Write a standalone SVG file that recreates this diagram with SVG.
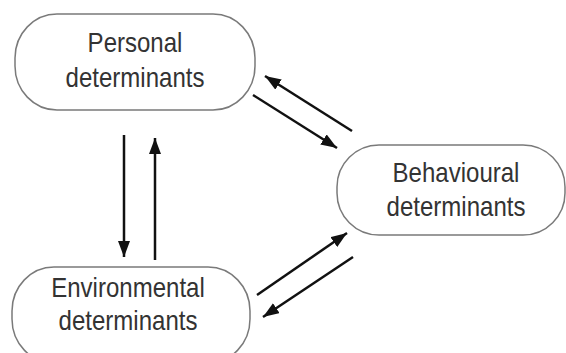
<svg xmlns="http://www.w3.org/2000/svg" width="566" height="353" viewBox="0 0 566 353">
<style>
.box{fill:#fff;stroke:#7a7a7a;stroke-width:1.5}
.lbl{font-family:"Liberation Sans",Arial,sans-serif;font-size:27px;fill:#333;text-anchor:middle}
.arr{stroke:#111;stroke-width:2.5;fill:none;marker-end:url(#ah)}
</style>
<defs>
<marker id="ah" markerUnits="userSpaceOnUse" markerWidth="18" markerHeight="12" refX="16" refY="6" orient="auto">
<path d="M0,0 L16,6 L0,12 Z" fill="#111"/>
</marker>
</defs>
<rect width="566" height="353" fill="#fff"/>
<g id="personal">
<rect class="box" x="15" y="14" width="240" height="96" rx="42" ry="44"/>
<text class="lbl" transform="translate(135,52) scale(0.89,1)">Personal</text>
<text class="lbl" transform="translate(135,87) scale(0.89,1)">determinants</text>
</g>
<g id="behavioural">
<rect class="box" x="337" y="145" width="228" height="90" rx="42" ry="42"/>
<text class="lbl" transform="translate(456,182) scale(0.89,1)">Behavioural</text>
<text class="lbl" transform="translate(456,216) scale(0.89,1)">determinants</text>
</g>
<g id="environmental">
<rect class="box" x="12" y="267" width="238" height="96" rx="42" ry="44"/>
<text class="lbl" transform="translate(128,297) scale(0.89,1)">Environmental</text>
<text class="lbl" transform="translate(128,330) scale(0.89,1)">determinants</text>
</g>
<g id="connectors">
<line class="arr" x1="124" y1="135" x2="124" y2="257"/>
<line class="arr" x1="155" y1="260" x2="155" y2="138"/>
<line class="arr" x1="253" y1="95" x2="337" y2="148"/>
<line class="arr" x1="352" y1="131" x2="265" y2="76"/>
<line class="arr" x1="257" y1="295" x2="347" y2="233"/>
<line class="arr" x1="353" y1="257" x2="263" y2="317"/>
</g>
</svg>
